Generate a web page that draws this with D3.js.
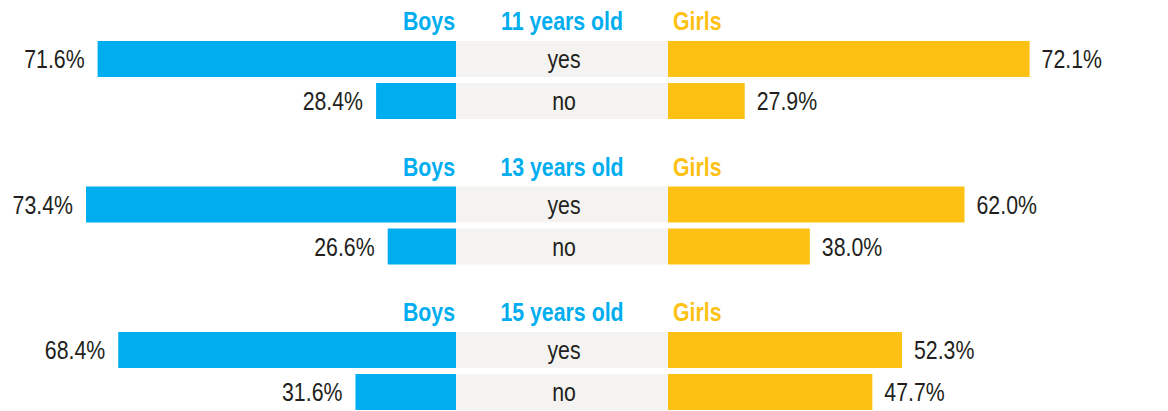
<!DOCTYPE html>
<html>
<head>
<meta charset="utf-8">
<script src="https://cdn.jsdelivr.net/npm/d3@7"></script>
<style>
  html, body { margin: 0; padding: 0; background: #fff; }
  svg { display: block; }
  text { font-family: "Liberation Sans", Arial, sans-serif; }
  .lbl { fill: #231f20; }
  .hdr { font-weight: bold; }
</style>
</head>
<body>
<svg id="chart" width="1168" height="411"></svg>
<script>
// Age groups, answer categories and shares (%) per sex
const ageGroups = ["11 years old", "13 years old", "15 years old"];
const answers = ["yes", "no"];
const boys  = [[71.6, 28.4], [73.4, 26.6], [68.4, 31.6]];
const girls = [[72.1, 27.9], [62.0, 38.0], [52.3, 47.7]];
const sexLabels = ["Boys", "Girls"];

const BLUE = "#00aeef", YELLOW = "#fdc113", GREY = "#f4f3f1";
const FONT_SIZE = 26, NARROW = 0.82;   // condensed look via horizontal scaling

const svg = d3.select("#chart");

// Centre column holding the answer labels
const midLeft = 456, midRight = 668;

// Bar length scale (shared by both sides)
const len = d3.scaleLinear().domain([16, 73.4]).range([0, 370]);

// Vertical layout: one block per age group, one row per answer
const groupY = d3.scalePoint().domain(ageGroups).range([41, 332]);
const rowY = d3.scalePoint().domain(answers).range([0, 42]);
const barH = 36;

// condensed text at (x, y)
function label(parent, x, y, str, anchor, cls, fill) {
  return parent.append("text")
    .attr("class", cls)
    .attr("transform", `translate(${x},${y}) scale(${NARROW},1)`)
    .attr("text-anchor", anchor)
    .attr("font-size", FONT_SIZE)
    .attr("fill", fill || null)
    .text(str);
}

ageGroups.forEach((age, gi) => {
  const g = svg.append("g").attr("transform", `translate(0,${groupY(age)})`);

  // headers
  label(g, midLeft - 1, -11, sexLabels[0], "end", "hdr", BLUE);
  label(g, (midLeft + midRight) / 2, -11, age, "middle", "hdr", BLUE);
  label(g, midRight + 5, -11, sexLabels[1], "start", "hdr", YELLOW);

  answers.forEach((ans, ri) => {
    const y = rowY(ans);
    const b = boys[gi][ri], gv = girls[gi][ri];
    const ty = y + barH / 2 + 9;

    // centre cell
    g.append("rect").attr("x", midLeft).attr("y", y).attr("width", midRight - midLeft)
      .attr("height", barH).attr("fill", GREY);
    label(g, (midLeft + midRight) / 2 + 2, ty, ans, "middle", "lbl");

    // boys bar (grows left)
    g.append("rect").attr("x", midLeft - len(b)).attr("y", y).attr("width", len(b))
      .attr("height", barH).attr("fill", BLUE);
    label(g, midLeft - len(b) - 13, ty, b.toFixed(1) + "%", "end", "lbl");

    // girls bar (grows right)
    g.append("rect").attr("x", midRight).attr("y", y).attr("width", len(gv))
      .attr("height", barH).attr("fill", YELLOW);
    label(g, midRight + len(gv) + 12, ty, gv.toFixed(1) + "%", "start", "lbl");
  });
});
</script>
</body>
</html>
